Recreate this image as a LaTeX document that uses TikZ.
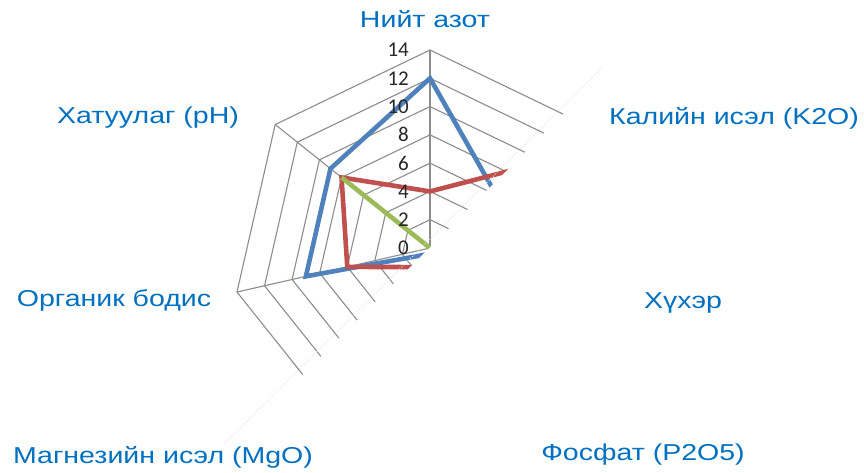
\documentclass[tikz,border=0pt]{standalone}
\usepackage{fontspec}
\setmainfont{Liberation Sans}[FakeStretch=1.24]
\newfontfamily\tickfont{Carlito}
\usetikzlibrary{calc}
\definecolor{labelblue}{HTML}{0070C0}
\definecolor{seriesblue}{HTML}{4F81BD}
\definecolor{seriesred}{HTML}{C0504D}
\definecolor{seriesgreen}{HTML}{9BBB59}
\definecolor{gridgray}{HTML}{8C8C8C}
\tikzset{
  every picture/.style={
    x=1pt, y=-1pt
  },
  grid line/.style={
    gridgray, line width=1.1pt
  },
  series/.style={
    line width=4.6pt, line join=miter
  },
  category/.style={
    text=labelblue, inner sep=0pt, anchor=base,
    font=\fontsize{23}{27}\selectfont
  },
  tick label/.style={
    text=black!85, inner sep=0pt, anchor=east,
    font=\tickfont\fontsize{21}{24}\selectfont
  }
}
\newcommand{\unitlen}{14.143}

\begin{document}
\begin{tikzpicture}
      \useasboundingbox (0,0) rectangle (864,473);
      \coordinate (C) at (430,248);
      % grid corners, axis k clockwise from the top
      \foreach \k in {0,...,6}
        \foreach \r in {2,4,...,14}
          \coordinate (g\k-\r) at ($(C)+({sin(\k*360/7)*\r*\unitlen},{-cos(\k*360/7)*\r*\unitlen})$);
      % the lower right corner of the page is folded away
      \begin{scope}
        \clip (0,0) -- (677,0) -- (0,677) -- cycle;
        \foreach \r in {2,4,...,14}
          \draw[grid line] (g0-\r) -- (g1-\r) -- (g2-\r) -- (g3-\r) -- (g4-\r) -- (g5-\r) -- (g6-\r) -- cycle;
        \foreach \k in {0,...,6}
          \draw[grid line] (C) -- (g\k-14);
        % series: values on the seven axes
        \foreach \col/\vals in {seriesblue/{12,6,5,5,0.5,9,9},
                                seriesred/{4,9.5,5,5,1.5,6,8},
                                seriesgreen/{0,0,0,0,0,0,8}}{
          \foreach \v [count=\k from 0] in \vals
            \coordinate (s\k) at ($(C)+({sin(\k*360/7)*\v*\unitlen},{-cos(\k*360/7)*\v*\unitlen})$);
          \draw[series, \col] (s0) -- (s1) -- (s2) -- (s3) -- (s4) -- (s5) -- (s6) -- cycle;
        }
      \end{scope}
      \draw[gray!20, dotted, line width=1pt] (225,443) coordinate (f1) -- (605,65) coordinate (f2);
      % axis values
      \foreach \r in {0,2,...,14}
        \node[tick label] (t\r) at (409,{248-\r*\unitlen}) {\r};
      % categories
      \node[category] (nitro) at (425,28) {Нийт азот};
      \node[category] (potash) at (734,125) {Калийн исэл (K2O)};
      \node[category] (sulfur) at (683,308) {Хүхэр};
      \node[category] (phos) at (643,460) {Фосфат (P2O5)};
      \node[category] (magn) at (163,463) {Магнезийн исэл (MgO)};
      \node[category] (organic) at (114,306) {Органик бодис};
      \node[category] (acid) at (148,124) {Хатуулаг (pH)};
\end{tikzpicture}
\end{document}
